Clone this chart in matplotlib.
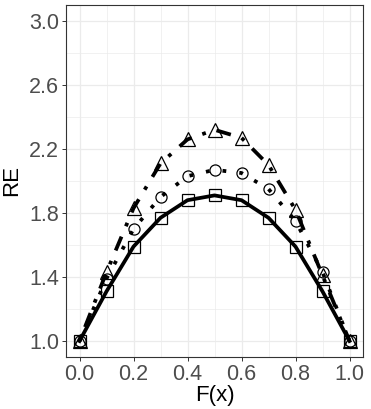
import matplotlib

matplotlib.use("Agg")
import matplotlib.pyplot as plt
import numpy as np

plt.rcParams["font.family"] = ["Liberation Sans", "DejaVu Sans"]

fx = [0.0, 0.1, 0.2, 0.3, 0.4, 0.5, 0.6, 0.7, 0.8, 0.9, 1.0]
re_square = [1.00, 1.31, 1.59, 1.77, 1.88, 1.91, 1.88, 1.77, 1.59, 1.31, 1.00]
re_circle = [1.00, 1.39, 1.70, 1.90, 2.03, 2.07, 2.05, 1.95, 1.75, 1.43, 1.00]
re_triangle = [1.00, 1.43, 1.83, 2.11, 2.26, 2.32, 2.27, 2.10, 1.82, 1.41, 1.00]

x_ticks = [0.0, 0.2, 0.4, 0.6, 0.8, 1.0]
y_ticks = [1.0, 1.4, 1.8, 2.2, 2.6, 3.0]

fig = plt.figure(figsize=(3.71, 4.09), dpi=100)
ax = fig.add_axes([66 / 371, 1 - 357 / 409, 297 / 371, 352 / 409])

lw = 2.7
ax.plot(fx, re_triangle, color="black", lw=lw, ls=(0, (1, 3, 4, 3)), zorder=3)
ax.plot(fx, re_circle, color="black", lw=lw, ls=(0, (1, 3.5)), zorder=3)
ax.plot(fx, re_square, color="black", lw=lw, ls="-", zorder=3)

mk = dict(ls="none", mfc="none", mec="black", mew=0.9, zorder=4)
ax.plot(fx, re_square, marker="s", ms=8, **mk)
ax.plot(fx, re_circle, marker="o", ms=8, **mk)
ax.plot(fx, re_triangle, marker="^", ms=9.5, **mk)

ax.set_xlim(-0.05, 1.05)
ax.set_ylim(0.9, 3.1)
ax.set_xticks(x_ticks)
ax.set_yticks(y_ticks)
ax.set_xticks(np.arange(0.1, 1.0, 0.2), minor=True)
ax.set_yticks(np.arange(1.2, 3.0, 0.4), minor=True)
ax.set_xticklabels([f"{v:.1f}" for v in x_ticks])
ax.set_yticklabels([f"{v:.1f}" for v in y_ticks])

ax.grid(which="major", color="#EBEBEB", lw=0.9)
ax.grid(which="minor", color="#EBEBEB", lw=0.5)
ax.set_axisbelow(True)
for s in ax.spines.values():
    s.set_color("#333333")
    s.set_linewidth(0.8)

ax.tick_params(which="major", length=3, width=0.7, color="#333333",
               labelsize=15.5, labelcolor="#4D4D4D", pad=2)
ax.tick_params(which="minor", length=0)

ax.set_xlabel("F(x)", fontsize=16, labelpad=0)
ax.set_ylabel("RE", fontsize=16, labelpad=5)

fig.savefig("out.png", dpi=100)
